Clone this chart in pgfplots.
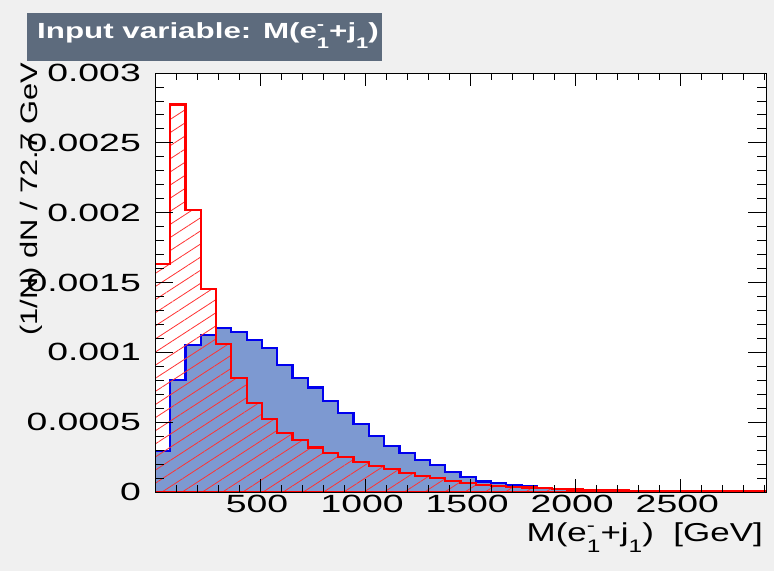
\documentclass[border=0pt]{standalone}
\usepackage{fontspec}
\setmainfont{Liberation Sans}[FakeStretch=1.35]
\newfontfamily\tickfont{Liberation Sans}[FakeStretch=1.5]
\newfontfamily\titlefont{Liberation Sans}[FakeStretch=1.43]
\newfontfamily\ylabfont{Liberation Sans}[FakeStretch=1.29]
\usepackage{graphicx}
\usepackage{pgfplots}
\pgfplotsset{compat=1.18}
\usetikzlibrary{patterns.meta}

\definecolor{canvasbg}{HTML}{F0F0F0}
\definecolor{titlebox}{HTML}{5D6B7D}
\definecolor{sigfill}{HTML}{7D99D1}
\definecolor{sigline}{HTML}{0000EE}
\definecolor{bkgline}{HTML}{FF0000}

% ROOT-style stacked super/subscript
\newcommand{\supsub}[2]{\rlap{\raisebox{0.42em}{\scalebox{0.7}{#1}}}\raisebox{-0.42em}{\scalebox{0.7}{#2}}}

\begin{document}
\begin{tikzpicture}[x=1bp,y=1bp]
\useasboundingbox (0,0) rectangle (774,571);
\fill[canvasbg] (0,0) rectangle (774,571);

% title box
\fill[titlebox] (27,510) rectangle (382,558);
\node[anchor=base west, text=white, inner sep=0pt,
      font=\titlefont\fontsize{22}{26}\selectfont\bfseries] at (37,532)
  {Input variable: M(e\supsub{-}{1}+j\supsub{}{1})};

\begin{axis}[
  at={(155bp,79bp)}, anchor=origin,
  scale only axis, width=611bp, height=419bp,
  xmin=0, xmax=2908, ymin=0, ymax=0.003,
  axis background/.style={fill=white},
  axis on top,
  axis line style={black, line width=0.8bp},
  tick align=inside,
  tick style={black, line width=0.8bp},
  major tick length=18bp, minor tick length=9bp,
  xtick style={/pgfplots/major tick length=13bp, /pgfplots/minor tick length=7bp},
  xtick={500,1000,1500,2000,2500},
  xticklabels={500,1000,1500,2000,2500},
  minor xtick={100,200,300,400,600,700,800,900,1100,1200,1300,1400,1600,1700,1800,1900,2100,2200,2300,2400,2600,2700,2800,2900},
  ytick={0,0.0005,0.001,0.0015,0.002,0.0025,0.003},
  yticklabels={0,0.0005,0.001,0.0015,0.002,0.0025,0.003},
  minor y tick num=4,
  scaled y ticks=false,
  ticklabel style={font=\tickfont\fontsize{25}{29}\selectfont, inner sep=0pt},
  yticklabel style={xshift=-14bp},
  xticklabel style={yshift=-3bp, xshift=-3bp},
]
%% signal
\addplot[const plot mark left, fill=sigfill, draw=sigline, line width=2.2bp]
  coordinates {
  (0,0.000293) (72.7,0.000802) (145.4,0.001052) (218.1,0.001124) (290.8,0.001174)
  (363.5,0.001145) (436.2,0.001088) (508.9,0.001031) (581.6,0.000909) (654.3,0.000815)
  (727,0.000748) (799.7,0.000652) (872.4,0.000566) (945.1,0.000487) (1017.8,0.000401)
  (1090.5,0.000329) (1163.2,0.000279) (1235.9,0.000229) (1308.6,0.000193) (1381.3,0.000143)
  (1454,0.000107) (1526.7,0.000075) (1599.4,0.000064) (1672.1,0.000050) (1744.8,0.000043)
  (1817.5,0.000030) (1890.2,0.000022) (1962.9,0.000015) (2035.6,0.000008) (2108.3,0.000005)
  (2181,0.000003) (2253.7,0.000002) (2326.4,0.000001) (2399.1,0.000001) (2471.8,0)
  (2544.5,0) (2617.2,0) (2689.9,0) (2762.6,0) (2835.3,0) (2908,0)
  } \closedcycle;
%% background
\addplot[const plot mark left, draw=bkgline, line width=2.2bp,
  pattern={Lines[angle=33, distance=11bp, line width=0.8bp]}, pattern color=bkgline!80]
  coordinates {
  (0,0.001632) (72.7,0.002775) (145.4,0.002019) (218.1,0.001453) (290.8,0.001059)
  (363.5,0.000816) (436.2,0.000637) (508.9,0.000523) (581.6,0.000422) (654.3,0.000370)
  (727,0.000318) (799.7,0.000280) (872.4,0.000251) (945.1,0.000215) (1017.8,0.000186)
  (1090.5,0.000165) (1163.2,0.000136) (1235.9,0.000115) (1308.6,0.000100) (1381.3,0.000078)
  (1454,0.000064) (1526.7,0.000052) (1599.4,0.000043) (1672.1,0.000036) (1744.8,0.000032)
  (1817.5,0.000026) (1890.2,0.000022) (1962.9,0.000018) (2035.6,0.000015) (2108.3,0.000012)
  (2181,0.000010) (2253.7,0.000009) (2326.4,0.000008) (2399.1,0.000007) (2471.8,0.000006)
  (2544.5,0.000005) (2617.2,0.000005) (2689.9,0.000004) (2762.6,0.000004) (2835.3,0.000003)
  (2908,0.000003)
  } \closedcycle;
\end{axis}

% axis titles
\node[rotate=90, anchor=base east, inner sep=0pt,
      font=\ylabfont\fontsize{24}{28}\selectfont] at (37,508)
  {(1/N) dN / 72.7 GeV};
\node[anchor=base east, inner sep=0pt,
      font=\fontsize{26}{30}\selectfont] at (763,29)
  {M(e\supsub{-}{1}+j\supsub{}{1})\ \ [GeV]};
\end{tikzpicture}
\end{document}
